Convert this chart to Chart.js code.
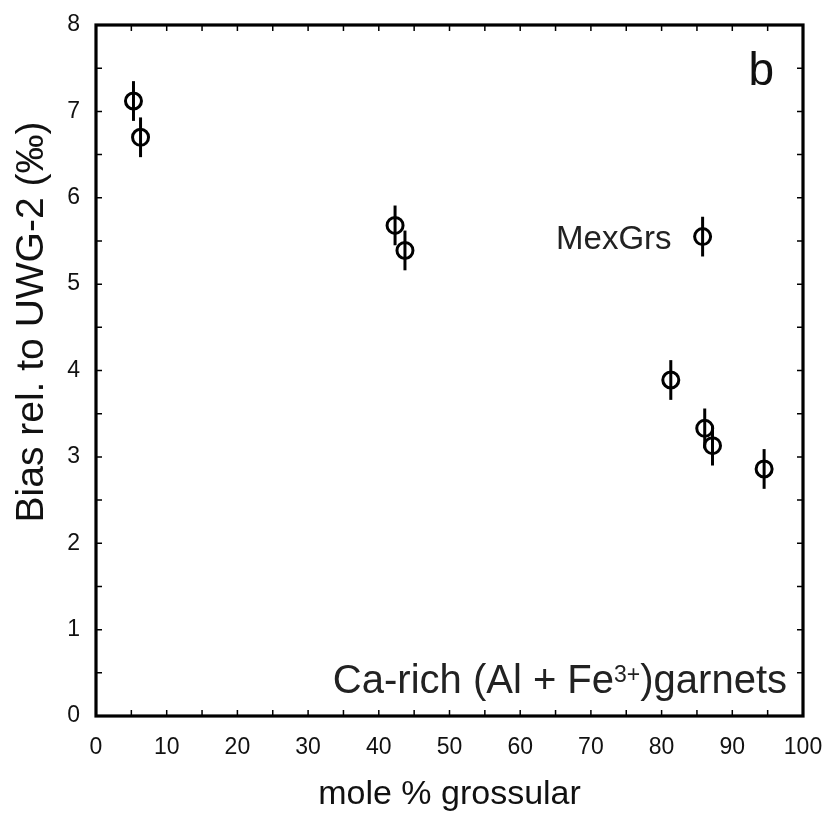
<!DOCTYPE html>
<html>
<head>
<meta charset="utf-8">
<script src="https://cdn.jsdelivr.net/npm/chart.js@4.4.0/dist/chart.umd.min.js"></script>
<style>
  html, body { margin: 0; padding: 0; background: #fff; }
  #wrap { width: 826px; height: 813px; }
</style>
</head>
<body>
<div id="wrap"><canvas id="chart"></canvas></div>
<script>
// mole % grossular vs. bias relative to UWG-2 (‰), panel b
const grossular  = [5.3, 6.3, 42.3, 43.7, 85.8, 81.3, 86.1, 87.2, 94.5];
const bias       = [7.12, 6.70, 5.68, 5.39, 5.55, 3.89, 3.33, 3.13, 2.86];
const biasErr    = [0.23, 0.23, 0.23, 0.23, 0.23, 0.23, 0.23, 0.23, 0.23];
const pointNames = ['', '', '', '', 'MexGrs', '', '', '', ''];

const xRange = [0, 100];
const yRange = [0, 8];
const xMajor = 10, xMinor = 5;
const yMajor = 1, yMinor = 0.5;

const xTitle = 'mole % grossular';
const yTitle = 'Bias rel. to UWG-2 (‰)';
const panelLabel = 'b';
const notePre = 'Ca-rich (Al + Fe';
const noteSup = '3+';
const notePost = ')garnets';

const FONT = "'Liberation Sans', Arial, Helvetica, sans-serif";
const INK = '#111';

// frame, inward ticks on all four sides, error bars and the text notes
const decorations = {
  id: 'decorations',
  beforeDatasetsDraw(chart) {
    const { ctx, scales: { x, y } } = chart;
    ctx.save();
    ctx.strokeStyle = '#000';
    ctx.lineWidth = 3;
    ctx.lineCap = 'butt';
    grossular.forEach((g, i) => {
      const px = x.getPixelForValue(g);
      ctx.beginPath();
      ctx.moveTo(px, y.getPixelForValue(bias[i] + biasErr[i]));
      ctx.lineTo(px, y.getPixelForValue(bias[i] - biasErr[i]));
      ctx.stroke();
    });
    ctx.restore();
  },
  afterDraw(chart) {
    const { ctx, chartArea: a, scales: { x, y } } = chart;
    ctx.save();

    // inward ticks
    const tl = 6;
    ctx.strokeStyle = '#000';
    ctx.lineWidth = 1.5;
    ctx.beginPath();
    for (let v = x.min; v <= x.max + 1e-9; v += xMinor) {
      const px = x.getPixelForValue(v);
      ctx.moveTo(px, a.bottom); ctx.lineTo(px, a.bottom - tl);
      ctx.moveTo(px, a.top);    ctx.lineTo(px, a.top + tl);
    }
    for (let v = y.min; v <= y.max + 1e-9; v += yMinor) {
      const py = y.getPixelForValue(v);
      ctx.moveTo(a.left, py);  ctx.lineTo(a.left + tl, py);
      ctx.moveTo(a.right, py); ctx.lineTo(a.right - tl, py);
    }
    ctx.stroke();

    // frame
    ctx.lineWidth = 3.2;
    ctx.strokeRect(a.left, a.top, a.right - a.left, a.bottom - a.top);

    ctx.fillStyle = INK;

    // axis titles
    ctx.font = '34px ' + FONT;
    ctx.textAlign = 'center';
    ctx.textBaseline = 'alphabetic';
    ctx.fillText(xTitle, (a.left + a.right) / 2, 804);

    ctx.save();
    ctx.translate(43, 322);
    ctx.rotate(-Math.PI / 2);
    ctx.font = '39px ' + FONT;
    ctx.fillText(yTitle, 0, 0);
    ctx.restore();

    // panel letter
    ctx.font = '46px ' + FONT;
    ctx.textAlign = 'right';
    ctx.fillText(panelLabel, a.right - 29, a.top + 60);

    // point name
    ctx.fillStyle = '#222';
    ctx.font = '33px ' + FONT;
    pointNames.forEach((name, i) => {
      if (!name) return;
      ctx.fillText(name, x.getPixelForValue(grossular[i]) - 31, y.getPixelForValue(bias[i]) + 12);
    });

    // composition note, right aligned, with superscript charge
    const big = '40px ' + FONT, small = '23px ' + FONT;
    ctx.textAlign = 'left';
    ctx.font = big;
    const w1 = ctx.measureText(notePre).width;
    const w3 = ctx.measureText(notePost).width;
    ctx.font = small;
    const w2 = ctx.measureText(noteSup).width;
    const base = a.bottom - 23;
    let sx = a.right - 16 - (w1 + w2 + w3);
    ctx.font = big;
    ctx.fillText(notePre, sx, base);
    sx += w1;
    ctx.font = small;
    ctx.fillText(noteSup, sx, base - 11);
    sx += w2;
    ctx.font = big;
    ctx.fillText(notePost, sx, base);

    ctx.restore();
  }
};

new Chart(document.getElementById('chart'), {
  type: 'scatter',
  data: {
    datasets: [{
      data: grossular.map((g, i) => ({ x: g, y: bias[i] })),
      pointStyle: 'circle',
      pointRadius: 8,
      pointHoverRadius: 8,
      pointBorderWidth: 3,
      pointHoverBorderWidth: 3,
      borderColor: '#000',
      backgroundColor: 'rgba(0,0,0,0)'
    }]
  },
  options: {
    responsive: true,
    maintainAspectRatio: false,
    animation: false,
    events: [],
    layout: { padding: { top: 25, right: 23, left: 0, bottom: 0 } },
    plugins: { legend: { display: false }, tooltip: { enabled: false } },
    scales: {
      x: {
        type: 'linear',
        min: xRange[0], max: xRange[1],
        grid: { display: false },
        border: { display: false },
        ticks: { stepSize: xMajor, padding: 10, color: INK, font: { family: FONT, size: 23 } },
        afterFit(scale) { scale.height = 97; scale.paddingLeft = 0; scale.paddingRight = 0; }
      },
      y: {
        type: 'linear',
        min: yRange[0], max: yRange[1],
        grid: { display: false },
        border: { display: false },
        ticks: { stepSize: yMajor, padding: 8, color: INK, font: { family: FONT, size: 23 } },
        afterFit(scale) { scale.width = 96; scale.paddingTop = 0; scale.paddingBottom = 0; }
      }
    }
  },
  plugins: [decorations]
});
</script>
</body>
</html>
